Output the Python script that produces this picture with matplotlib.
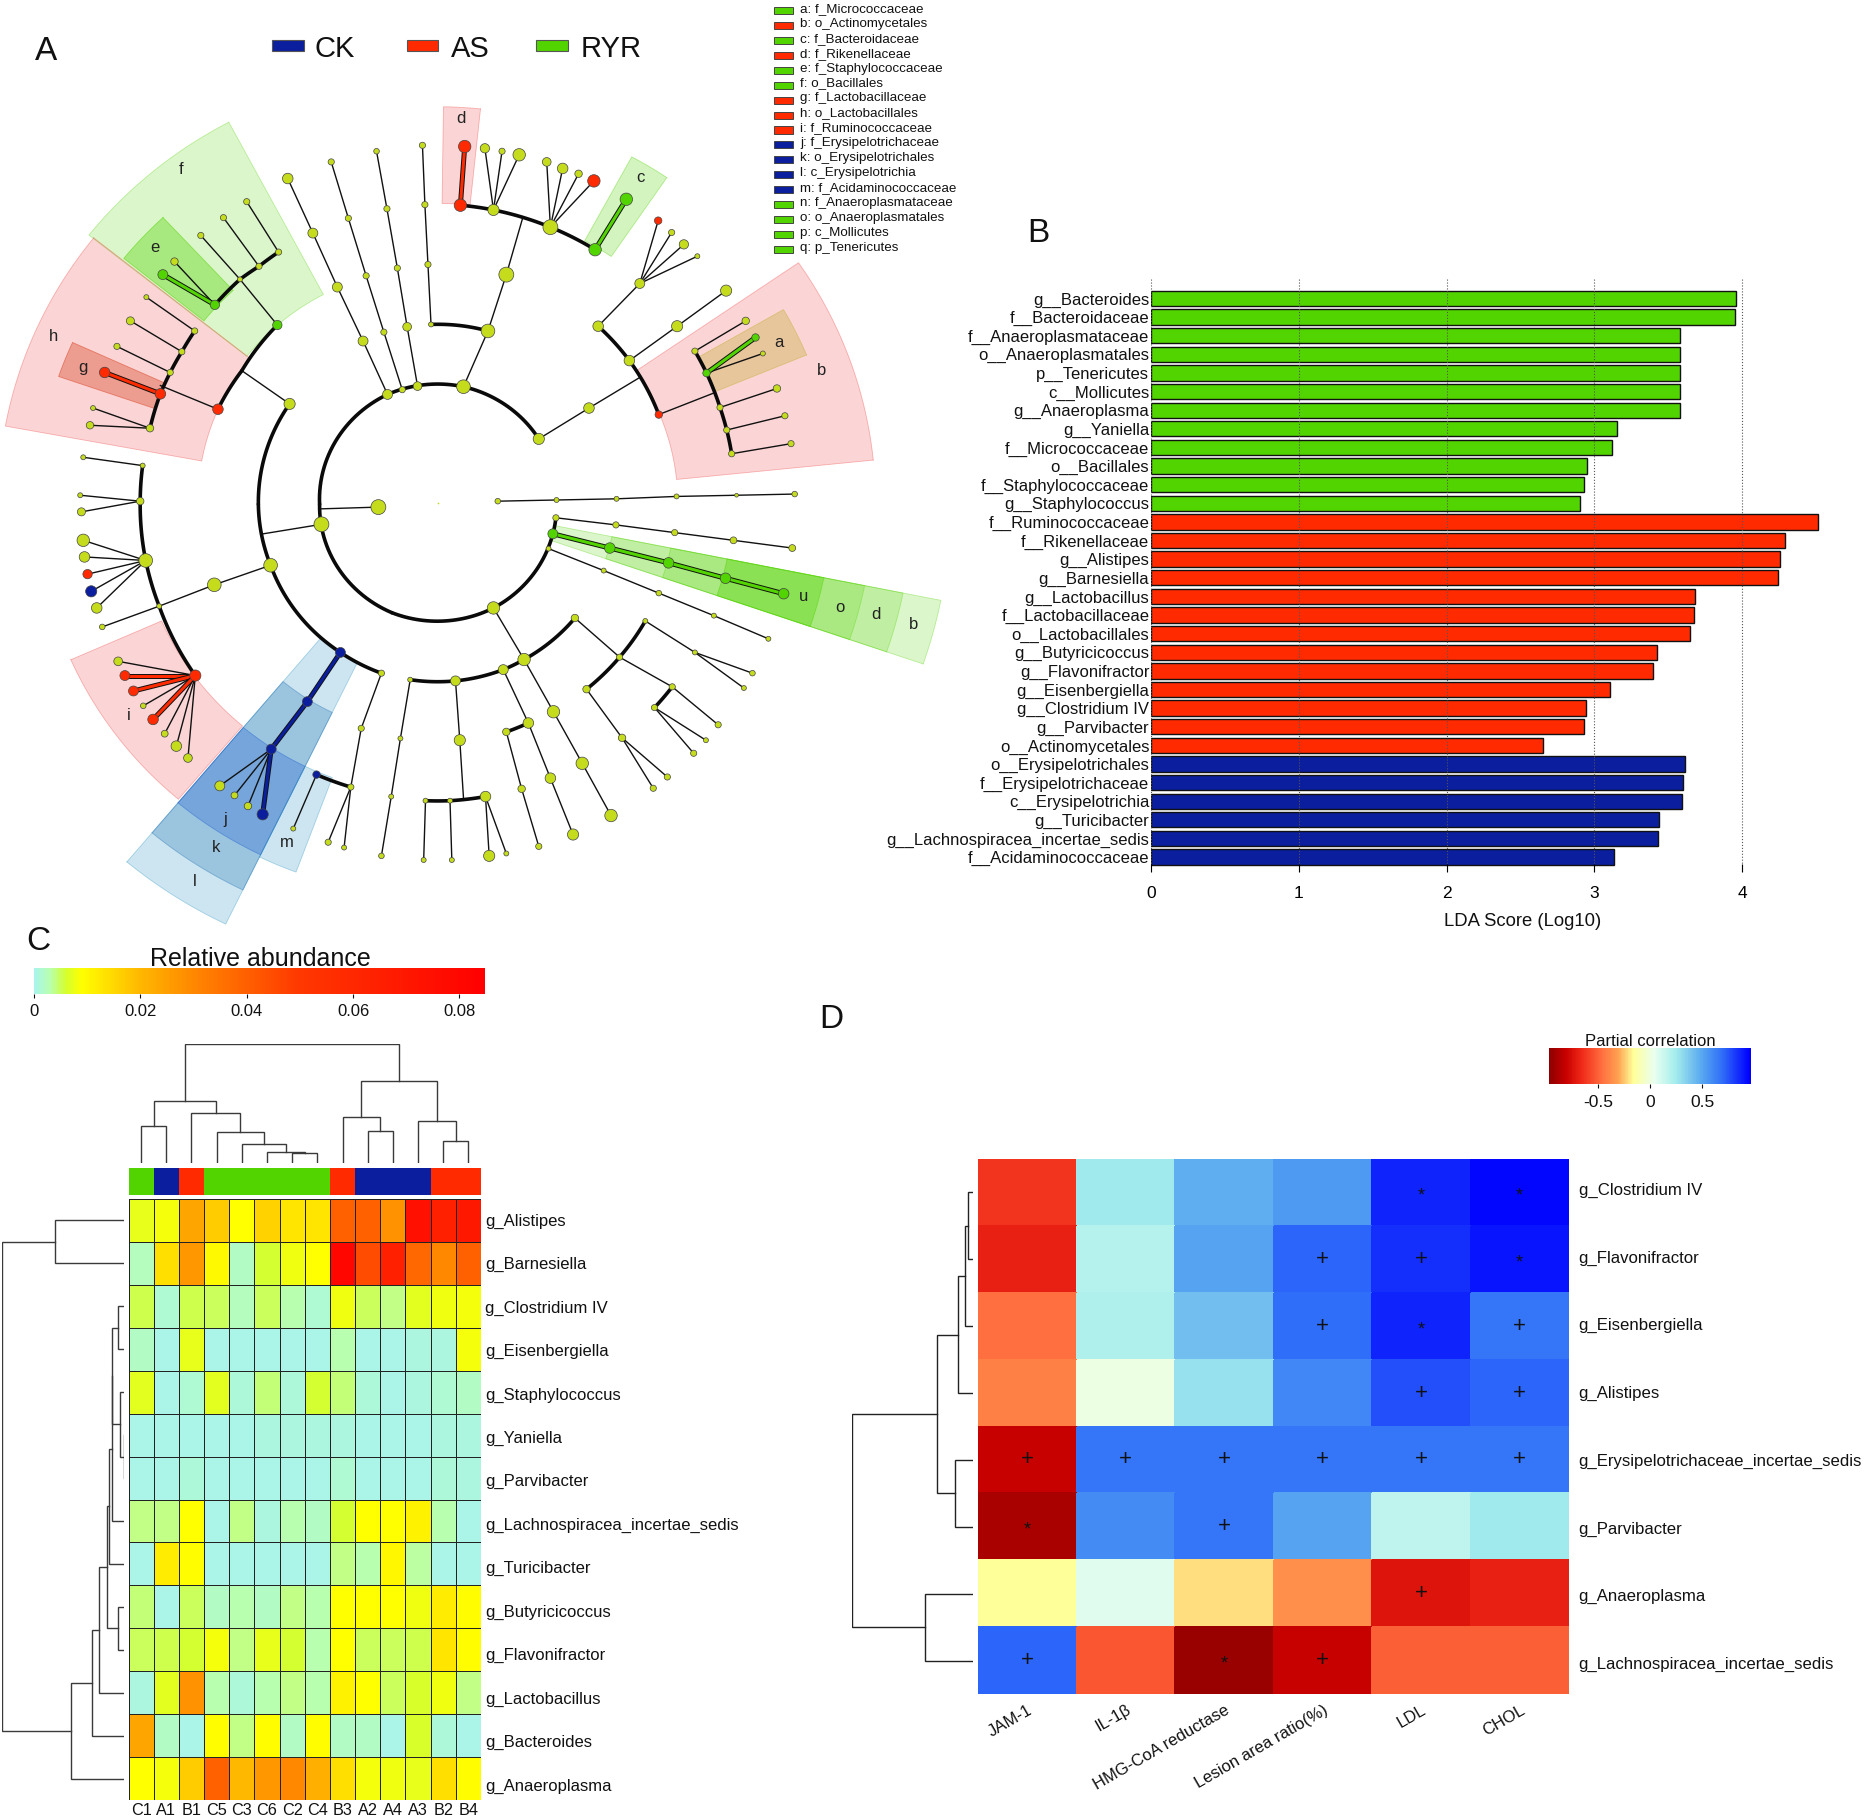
import numpy as np
import matplotlib
matplotlib.use("Agg")
import matplotlib.pyplot as plt
from matplotlib.colors import LinearSegmentedColormap, Normalize
from matplotlib.cm import ScalarMappable
from matplotlib.patches import Polygon, Rectangle

plt.rcParams['font.family'] = ['Liberation Sans', 'DejaVu Sans']
W, H = 1864, 1819
fig = plt.figure(figsize=(W / 100, H / 100), dpi=100, facecolor='white')

GREEN, RED, BLUE = '#52d400', '#ff2a00', '#0a1e9e'
NODE = '#c4dc1c'
COL = {'n': NODE, 'g': GREEN, 'r': RED, 'b': BLUE}


def box(x0, y0, x1, y1, **kw):
    return fig.add_axes([x0 / W, 1 - y1 / H, (x1 - x0) / W, (y1 - y0) / H], **kw)


# ---------------- Panel A data (cladogram, in its own data space) ----------------
CENTER = (715, 848)
# name, r_in, r_out, theta1, theta2, colour, alpha
sectors = [
    ('f', 398, 727, 118, 141.6, GREEN, .20), ('e', 490, 658, 133, 141.2, GREEN, .38),
    ('h', 392, 718, 141.5, 169.6, '#f04040', .22), ('g', 488, 655, 155.6, 161, '#d84020', .38),
    ('d', 505, 668, 84, 89.2, '#f04040', .22), ('c', 503, 664, 55.7, 61.5, GREEN, .25),
    ('b', 392, 715, 5.8, 34.5, '#f04040', .22), ('a', 490, 652, 22.5, 30, '#c8b040', .38),
    ('ub', 195, 838, -18.9, -11.3, GREEN, .20), ('ud', 290, 775, -18.9, -11.3, GREEN, .20),
    ('uo', 388, 711, -18.9, -11.3, GREEN, .20), ('uu', 482, 643, -18.9, -11.3, GREEN, .35),
    ('i', 493, 655, 203.8, 229.7, '#f04040', .22),
    ('l', 298, 790, 230, 244, '#3d9cc8', .26), ('k', 393, 726, 230, 244, '#2c78b8', .30),
    ('j', 494, 660, 230, 244, '#2060d0', .30), ('m', 494, 664, 244, 249.6, '#3d9cc8', .26),
]
sector_labels = [('d', 753, 200), ('c', 1046, 300), ('f', 295, 286), ('e', 253, 417), ('h', 87, 568),
                 ('g', 135, 619), ('b', 1342, 624), ('a', 1272, 578), ('u', 1313, 1006), ('o', 1372, 1024),
                 ('d', 1430, 1036), ('b', 1492, 1053), ('i', 210, 1207), ('j', 368, 1381), ('k', 353, 1429),
                 ('l', 318, 1487), ('m', 469, 1421)]
arcs = [
    [(880, 740), (757, 652), (633, 665), (522, 850), (640, 1033), (806, 1025), (903, 900), (908, 873)],
    [(473, 681), (422, 850), (442, 953), (556, 1100), (623, 1135)],
    [(752, 346), (806, 354), (899, 383), (972, 421)],
    [(704, 547), (797, 558)],
    [(977, 550), (1028, 608), (1076, 699)],
    [(1135, 592), (1154, 629), (1176, 687), (1195, 765)],
    [(670, 1146), (744, 1148), (822, 1129), (856, 1112), (939, 1042)],
    [(958, 1162), (1012, 1108), (1054, 1047)],
    [(1069, 1193), (1098, 1158)],
    [(827, 1234), (863, 1219)],
    [(695, 1350), (735, 1350), (793, 1343)],
    [(517, 1306), (573, 1327)],
    [(233, 785), (229, 845), (238, 945), (260, 1022), (319, 1139)],
    [(356, 690), (395, 625), (453, 548)],
    [(245, 722), (262, 664), (278, 628), (297, 593), (318, 558)],
    [(351, 514), (392, 471), (423, 449), (455, 425)],
]
thin = [
    [(633, 665), (593, 575), (551, 484), (511, 393), (470, 301)],
    [(657, 657), (627, 560), (598, 465), (569, 368), (541, 273)],
    [(682, 651), (665, 551), (649, 452), (632, 352), (615, 255)],
    [(704, 547), (699, 446), (694, 345), (690, 245)],
    [(757, 652), (797, 558), (827, 463), (853, 370)],
    [(806, 354), (792, 250)], [(806, 354), (820, 255)], [(806, 354), (848, 261)],
    [(899, 383), (893, 273)], [(899, 383), (919, 284)], [(899, 383), (945, 293)], [(899, 383), (970, 305)],
    [(880, 740), (962, 688), (1044, 637)],
    [(977, 550), (1045, 478)], [(1045, 478), (1075, 372)], [(1045, 478), (1097, 392)],
    [(1045, 478), (1117, 412)], [(1045, 478), (1139, 432)],
    [(1028, 608), (1106, 550), (1186, 490)],
    [(1076, 699), (1165, 663)],
    [(1135, 592), (1218, 541)], [(1154, 629), (1246, 596)],
    [(1176, 687), (1269, 655)], [(1187, 725), (1282, 701)], [(1195, 765), (1292, 748)],
    [(813, 845), (909, 843), (1007, 841), (1105, 837), (1203, 835), (1298, 833)],
    [(908, 873), (1006, 885), (1102, 898), (1198, 911), (1294, 924)],
    [(896, 925), (986, 962), (1076, 1000), (1166, 1038), (1255, 1077)],
    [(806, 1025), (856, 1112), (904, 1200), (951, 1287), (998, 1375)],
    [(939, 1042), (1012, 1108), (1098, 1158), (1173, 1222)],
    [(1054, 1047), (1135, 1100), (1229, 1135)], [(1135, 1100), (1215, 1160)],
    [(1069, 1193), (1153, 1248)], [(1069, 1193), (1133, 1270)],
    [(958, 1162), (1016, 1244), (1090, 1310)], [(1016, 1244), (1067, 1329)],
    [(822, 1129), (863, 1219), (899, 1312), (936, 1407)],
    [(827, 1234), (852, 1330), (880, 1427)],
    [(744, 1148), (751, 1248), (757, 1345)],
    [(695, 1350), (692, 1450)], [(735, 1350), (738, 1450)], [(793, 1343), (799, 1443)], [(793, 1343), (827, 1439)],
    [(670, 1146), (654, 1245), (639, 1343), (623, 1443)],
    [(623, 1135), (590, 1228), (573, 1327)],
    [(573, 1327), (536, 1420)], [(573, 1327), (562, 1429)], [(517, 1306), (479, 1397)],
    [(443, 1263), (359, 1325)], [(443, 1263), (383, 1341)], [(443, 1263), (405, 1359)],
    [(319, 1139), (193, 1115)], [(319, 1139), (234, 1190)], [(319, 1139), (269, 1237)],
    [(319, 1139), (288, 1258)], [(319, 1139), (307, 1278)],
    [(233, 785), (136, 771)], [(229, 845), (131, 835)], [(229, 845), (133, 863)],
    [(238, 945), (136, 911)], [(238, 945), (138, 939)], [(238, 945), (143, 968)],
    [(238, 945), (149, 997)], [(238, 945), (158, 1025)],
    [(430, 900), (525, 884)], [(522, 858), (618, 855)],
    [(442, 953), (350, 986), (260, 1022), (167, 1057)],
    [(473, 681), (395, 625)], [(356, 690), (262, 650)],
    [(245, 722), (147, 717)], [(245, 722), (152, 688)], [(278, 628), (191, 584)],
    [(297, 593), (213, 541)], [(318, 558), (239, 501)],
    [(453, 548), (392, 471), (328, 397)], [(351, 514), (285, 441)],
    [(423, 449), (365, 367)], [(455, 425), (403, 340)],
]
thick = [
    ('r', [(752, 346), (759, 247)]), ('g', [(972, 421), (1023, 336)]),
    ('g', [(1154, 629), (1234, 569)]),
    ('g', [(903, 900), (996, 924), (1092, 949), (1185, 975), (1280, 1001)]),
    ('b', [(556, 1100), (502, 1183), (443, 1263), (429, 1373)]),
    ('r', [(319, 1139), (204, 1139)]), ('r', [(319, 1139), (218, 1165)]), ('r', [(319, 1139), (250, 1213)]),
    ('r', [(262, 664), (171, 628)]), ('g', [(351, 514), (266, 463)]),
]
nodes = [
    (593, 575, 16, 'n'), (551, 484, 16, 'n'), (511, 393, 16, 'n'), (470, 301, 17, 'n'),
    (627, 560, 10, 'n'), (598, 465, 10, 'n'), (569, 368, 10, 'n'), (541, 273, 10, 'n'),
    (665, 551, 14, 'n'), (649, 452, 10, 'n'), (632, 352, 10, 'n'), (615, 255, 9, 'n'),
    (704, 547, 8, 'n'), (699, 446, 10, 'n'), (694, 345, 10, 'n'), (690, 245, 10, 'n'),
    (633, 665, 16, 'n'), (657, 657, 10, 'n'), (682, 651, 14, 'n'), (757, 652, 22, 'n'), (880, 740, 18, 'n'),
    (797, 558, 22, 'n'), (827, 463, 24, 'n'),
    (752, 346, 20, 'r'), (806, 354, 18, 'n'), (899, 383, 24, 'n'), (972, 421, 20, 'g'),
    (759, 247, 20, 'r'), (1023, 336, 20, 'g'),
    (792, 250, 15, 'n'), (820, 255, 10, 'n'), (848, 261, 20, 'n'),
    (893, 273, 14, 'n'), (919, 284, 17, 'n'), (945, 293, 12, 'n'), (970, 305, 20, 'r'),
    (962, 688, 17, 'n'), (977, 550, 17, 'n'), (1028, 608, 17, 'n'), (1076, 699, 12, 'r'),
    (1045, 478, 16, 'n'), (1075, 372, 12, 'r'), (1097, 392, 10, 'n'), (1117, 412, 15, 'n'), (1139, 432, 8, 'n'),
    (1106, 550, 18, 'n'), (1186, 490, 18, 'n'),
    (1135, 592, 10, 'n'), (1154, 629, 12, 'g'), (1176, 687, 10, 'n'), (1187, 725, 10, 'n'), (1195, 765, 10, 'n'),
    (1218, 541, 12, 'n'), (1234, 569, 12, 'g'), (1246, 596, 8, 'n'),
    (1269, 655, 12, 'n'), (1282, 701, 10, 'n'), (1292, 748, 10, 'n'),
    (813, 845, 9, 'n'), (909, 843, 8, 'n'), (1007, 841, 8, 'n'), (1105, 837, 8, 'n'), (1203, 835, 6, 'n'), (1298, 833, 9, 'n'),
    (908, 873, 10, 'n'), (1006, 885, 10, 'n'), (1102, 898, 10, 'n'), (1198, 911, 11, 'n'), (1294, 924, 11, 'n'),
    (903, 900, 16, 'g'), (996, 924, 17, 'g'), (1092, 949, 17, 'g'), (1185, 975, 17, 'g'), (1280, 1001, 17, 'g'),
    (896, 925, 8, 'n'), (986, 962, 8, 'n'), (1076, 1000, 9, 'n'), (1166, 1038, 8, 'n'), (1255, 1077, 8, 'n'),
    (806, 1025, 20, 'n'), (670, 1146, 8, 'n'), (744, 1148, 16, 'n'), (822, 1129, 16, 'n'), (856, 1112, 20, 'n'), (939, 1042, 12, 'n'),
    (958, 1162, 12, 'n'), (1012, 1108, 10, 'n'), (1054, 1047, 8, 'n'),
    (1135, 1100, 8, 'n'), (1229, 1135, 9, 'n'), (1215, 1160, 8, 'n'),
    (1098, 1158, 10, 'n'), (1069, 1193, 10, 'n'), (1173, 1222, 10, 'n'), (1153, 1248, 8, 'n'), (1133, 1270, 10, 'n'),
    (1016, 1244, 12, 'n'), (1090, 1310, 10, 'n'), (1067, 1329, 10, 'n'),
    (904, 1200, 20, 'n'), (951, 1287, 20, 'n'), (998, 1375, 20, 'n'),
    (863, 1219, 17, 'n'), (827, 1234, 12, 'n'), (852, 1330, 12, 'n'), (880, 1427, 10, 'n'),
    (899, 1312, 17, 'n'), (936, 1407, 18, 'n'),
    (751, 1248, 18, 'n'), (695, 1350, 8, 'n'), (735, 1350, 8, 'n'), (793, 1343, 17, 'n'),
    (692, 1450, 8, 'n'), (738, 1450, 8, 'n'), (799, 1443, 18, 'n'), (827, 1439, 8, 'n'),
    (654, 1245, 8, 'n'), (639, 1343, 8, 'n'), (623, 1443, 9, 'n'),
    (623, 1135, 10, 'n'), (590, 1228, 10, 'n'), (573, 1327, 10, 'n'), (517, 1306, 12, 'b'),
    (536, 1420, 10, 'n'), (562, 1429, 8, 'n'), (479, 1397, 8, 'n'),
    (556, 1100, 16, 'b'), (502, 1183, 16, 'b'), (443, 1263, 16, 'b'), (429, 1373, 18, 'b'),
    (359, 1325, 16, 'n'), (383, 1341, 11, 'n'), (405, 1359, 12, 'n'),
    (319, 1139, 18, 'r'), (193, 1115, 14, 'n'), (204, 1139, 16, 'r'), (218, 1165, 16, 'r'), (234, 1190, 9, 'n'),
    (250, 1213, 17, 'r'), (269, 1237, 11, 'n'), (288, 1258, 17, 'n'), (307, 1278, 14, 'n'),
    (229, 845, 12, 'n'), (233, 785, 8, 'n'), (238, 945, 22, 'n'), (260, 1022, 8, 'n'),
    (136, 771, 8, 'n'), (131, 835, 8, 'n'), (133, 863, 13, 'n'),
    (136, 911, 20, 'n'), (138, 939, 17, 'n'), (143, 968, 15, 'r'), (149, 997, 18, 'b'), (158, 1025, 17, 'n'), (167, 1057, 9, 'n'),
    (525, 884, 24, 'n'), (618, 855, 24, 'n'), (442, 953, 22, 'n'), (350, 986, 22, 'n'), (473, 681, 18, 'n'),
    (356, 690, 17, 'r'), (453, 548, 15, 'g'), (245, 722, 12, 'n'), (262, 664, 17, 'r'), (278, 628, 10, 'n'),
    (297, 593, 10, 'n'), (318, 558, 10, 'n'), (147, 717, 12, 'n'), (152, 688, 8, 'n'), (171, 628, 17, 'r'),
    (191, 584, 10, 'n'), (213, 541, 13, 'n'), (239, 501, 8, 'n'),
    (351, 514, 15, 'g'), (392, 471, 8, 'n'), (423, 449, 10, 'n'), (455, 425, 10, 'n'), (328, 397, 10, 'n'),
    (266, 463, 16, 'g'), (285, 441, 12, 'n'), (365, 367, 10, 'n'), (403, 340, 10, 'n'),
]
legend_names = ['a: f_Micrococcaceae', 'b: o_Actinomycetales', 'c: f_Bacteroidaceae', 'd: f_Rikenellaceae',
                'e: f_Staphylococcaceae', 'f: o_Bacillales', 'g: f_Lactobacillaceae', 'h: o_Lactobacillales',
                'i: f_Ruminococcaceae', 'j: f_Erysipelotrichaceae', 'k: o_Erysipelotrichales', 'l: c_Erysipelotrichia',
                'm: f_Acidaminococcaceae', 'n: f_Anaeroplasmataceae', 'o: o_Anaeroplasmatales', 'p: c_Mollicutes',
                'q: p_Tenericutes']
legend_groups = list('grgrggrrrbbbbgggg')
group_names = ['CK', 'AS', 'RYR']
group_keys = ['b', 'r', 'g']

# ---------------- Panel B data ----------------
lda_names = ['g__Bacteroides', 'f__Bacteroidaceae', 'f__Anaeroplasmataceae', 'o__Anaeroplasmatales', 'p__Tenericutes',
             'c__Mollicutes', 'g__Anaeroplasma', 'g__Yaniella', 'f__Micrococcaceae', 'o__Bacillales',
             'f__Staphylococcaceae', 'g__Staphylococcus', 'f__Ruminococcaceae', 'f__Rikenellaceae', 'g__Alistipes',
             'g__Barnesiella', 'g__Lactobacillus', 'f__Lactobacillaceae', 'o__Lactobacillales', 'g__Butyricicoccus',
             'g__Flavonifractor', 'g__Eisenbergiella', 'g__Clostridium IV', 'g__Parvibacter', 'o__Actinomycetales',
             'o__Erysipelotrichales', 'f__Erysipelotrichaceae', 'c__Erysipelotrichia', 'g__Turicibacter',
             'g__Lachnospiracea_incertae_sedis', 'f__Acidaminococcaceae']
lda_values = [3.957, 3.952, 3.58, 3.58, 3.58, 3.58, 3.576, 3.156, 3.117, 2.948, 2.93, 2.90,
              4.51, 4.286, 4.255, 4.242, 3.68, 3.675, 3.645, 3.42, 3.398, 3.104, 2.944, 2.93, 2.65,
              3.615, 3.597, 3.593, 3.437, 3.433, 3.13]
lda_groups = ['g'] * 12 + ['r'] * 13 + ['b'] * 6

# ---------------- Panel C data ----------------
c_cols = ['C1', 'A1', 'B1', 'C5', 'C3', 'C6', 'C2', 'C4', 'B3', 'A2', 'A4', 'A3', 'B2', 'B4']
c_groups = list('gbrgggggrbbbrr')
c_rows = ['g_Alistipes', 'g_Barnesiella', 'g_Clostridium IV', 'g_Eisenbergiella', 'g_Staphylococcus', 'g_Yaniella',
          'g_Parvibacter', 'g_Lachnospiracea_incertae_sedis', 'g_Turicibacter', 'g_Butyricicoccus', 'g_Flavonifractor',
          'g_Lactobacillus', 'g_Bacteroides', 'g_Anaeroplasma']
c_matrix = [
    [.0075, .0085, .024, .017, .009, .016, .013, .013, .04, .04, .028, .075, .065, .07],
    [.0025, .014, .027, .010, .002, .006, .008, .009, .08, .045, .065, .038, .03, .04],
    [.0055, .0015, .0055, .005, .0025, .005, .003, .0015, .008, .005, .004, .007, .008, .0085],
    [.002, .0005, .0075, .0005, .0005, .0005, .0005, .0005, .003, .0005, .0005, .0008, .0008, .0085],
    [.007, .0005, .0015, .007, .001, .0045, .001, .006, .0045, .001, .0005, .0008, .0015, .002],
    [.0006, .0005, .0006, .0006, .0005, .0009, .0007, .0008, .0007, .0005, .0005, .0006, .0008, .0007],
    [.0005, .0005, .0012, .0005, .0005, .0006, .0005, .0006, .0015, .0005, .0005, .0005, .0012, .0007],
    [.004, .004, .009, .0005, .004, .0008, .003, .002, .006, .009, .009, .011, .003, .0006],
    [.0004, .012, .0095, .0004, .0004, .0004, .0004, .0004, .004, .003, .0105, .0035, .0005, .0005],
    [.0045, .0006, .005, .002, .003, .002, .004, .003, .009, .009, .009, .008, .012, .0095],
    [.005, .0055, .006, .0085, .004, .0075, .006, .003, .009, .005, .005, .0055, .013, .0095],
    [.0008, .007, .028, .003, .001, .003, .004, .003, .011, .009, .005, .0065, .008, .004],
    [.024, .0022, .0004, .0095, .004, .0095, .002, .0095, .002, .002, .0006, .0065, .0012, .0006],
    [.009, .0085, .017, .04, .02, .027, .03, .022, .014, .0085, .008, .0075, .014, .0095],
]
c_col_merges = [(0, 1, .31), (6, 7, .082), (5, 15, .096), (4, 16, .163), (3, 17, .264), (2, 18, .423), (14, 19, .52),
                (9, 10, .27), (8, 21, .385), (12, 13, .183), (11, 23, .35), (22, 24, .69), (20, 25, 1.0)]
c_row_merges = [(0, 1, .57), (2, 3, .052), (5, 6, .004), (4, 16, .032), (15, 17, .096), (7, 18, .10), (8, 19, .12),
                (9, 10, .052), (20, 21, .143), (11, 22, .203), (12, 23, .263), (13, 24, .434), (14, 25, 1.0)]

# ---------------- Panel D data ----------------
d_rows = ['g_Clostridium IV', 'g_Flavonifractor', 'g_Eisenbergiella', 'g_Alistipes', 'g_Erysipelotrichaceae_incertae_sedis',
          'g_Parvibacter', 'g_Anaeroplasma', 'g_Lachnospiracea_incertae_sedis']
d_cols = ['JAM-1', 'IL-1β', 'HMG-CoA reductase', 'Lesion area ratio(%)', 'LDL', 'CHOL']
d_matrix = [
    [-.62, .27, .48, .56, .88, .95],
    [-.68, .2, .52, .72, .85, .92],
    [-.45, .22, .42, .70, .88, .68],
    [-.4, .02, .3, .62, .78, .72],
    [-.8, .68, .68, .68, .68, .68],
    [-.88, .6, .68, .52, .18, .27],
    [-.15, .08, -.2, -.35, -.72, -.68],
    [.72, -.52, -.93, -.8, -.5, -.5],
]
d_marks = [['', '', '', '', '*', '*'], ['', '', '', '+', '+', '*'], ['', '', '', '+', '*', '+'], ['', '', '', '', '+', '+'],
           ['+', '+', '+', '+', '+', '+'], ['*', '', '+', '', '', ''], ['', '', '', '', '+', ''], ['+', '', '*', '+', '', '']]
d_merges = [(0, 1, .045), (8, 2, .07), (9, 3, .12), (4, 5, .15), (10, 11, .30), (6, 7, .40), (12, 13, 1.0)]


# ---------------- helpers ----------------
def arc_points(p, q, n=30):
    a0 = np.arctan2(p[1] - CENTER[1], p[0] - CENTER[0])
    a1 = np.arctan2(q[1] - CENTER[1], q[0] - CENTER[0])
    da = (a1 - a0 + np.pi) % (2 * np.pi) - np.pi
    r0, r1 = np.hypot(p[0] - CENTER[0], p[1] - CENTER[1]), np.hypot(q[0] - CENTER[0], q[1] - CENTER[1])
    t = np.linspace(0, 1, n)
    return CENTER[0] + (r0 + (r1 - r0) * t) * np.cos(a0 + da * t), CENTER[1] + (r0 + (r1 - r0) * t) * np.sin(a0 + da * t)


def dendrogram(ax, merges, nleaf, horizontal, color='#3a3a3a', lw=1.0):
    pos = {i: i + .5 for i in range(nleaf)}
    hgt = {i: 0 for i in range(nleaf)}
    for k, (a, b, h) in enumerate(merges):
        xs = [pos[a], pos[a], pos[b], pos[b]]
        ys = [hgt[a], h, h, hgt[b]]
        if horizontal:
            ax.plot(ys, xs, color=color, lw=lw, solid_joinstyle='miter')
        else:
            ax.plot(xs, ys, color=color, lw=lw, solid_joinstyle='miter')
        pos[nleaf + k] = (pos[a] + pos[b]) / 2
        hgt[nleaf + k] = h
    ax.axis('off')


# ---------------- Panel A ----------------
ax = box(0, 0, 960, 930)
ax.set_xlim(0, 1568)
ax.set_ylim(1568, 0)
ax.axis('off')
for name, r0, r1, t0, t1, c, al in sectors:
    th = np.radians(np.linspace(t0, t1, 50))
    xs = np.r_[CENTER[0] + r1 * np.cos(th), CENTER[0] + r0 * np.cos(th[::-1])]
    ys = np.r_[CENTER[1] - r1 * np.sin(th), CENTER[1] - r0 * np.sin(th[::-1])]
    ax.add_patch(Polygon(np.c_[xs, ys], closed=True, facecolor=c, edgecolor='none', alpha=al, zorder=1))
    ax.plot(np.r_[xs, xs[0]], np.r_[ys, ys[0]], color=c, lw=.6, alpha=min(al + .15, .6), zorder=1)
for line in thin:
    ax.plot(*zip(*line), color='#111111', lw=1.0, zorder=3)
for way in arcs:
    for p, q in zip(way[:-1], way[1:]):
        ax.plot(*arc_points(p, q), color='#0a0a0a', lw=2.6, zorder=3, solid_capstyle='round')
for key, line in thick:
    ax.plot(*zip(*line), color='#111111', lw=3.6, zorder=4, solid_capstyle='round')
    ax.plot(*zip(*line), color=COL[key], lw=2.2, zorder=4, solid_capstyle='round')
xn, yn, dn, kn = zip(*nodes)
ax.scatter(xn, yn, s=(np.array(dn) / 1.65 * .72) ** 2 * 1.05, c=[COL[k] for k in kn], edgecolors='#444444',
           linewidths=.5, zorder=5)
ax.scatter([CENTER[0]], [CENTER[1]], s=1.5, c=NODE, linewidths=0, zorder=5)
for t, x, y in sector_labels:
    ax.text(x, y, t, fontsize=12, ha='center', va='center', color='#222222', zorder=6)
for i, (nm, k) in enumerate(zip(group_names, group_keys)):
    x0 = [445, 664, 876][i]
    ax.add_patch(Rectangle((x0, 67), 52, 19, facecolor=COL[k], edgecolor='#555555', lw=.8, zorder=6))
    ax.text(x0 + [68, 72, 72][i], 83, nm, fontsize=21, va='center', color='#111111')
for i, (nm, k) in enumerate(zip(legend_names, legend_groups)):
    y = 18 + 25.15 * i
    ax.add_patch(Rectangle((1264, y - 6), 32, 12, facecolor=COL[k], edgecolor='#444444', lw=.7, zorder=6, clip_on=False))
    ax.text(1307, y - 3, nm, fontsize=9.65, va='center', color='#111111', clip_on=False)

for t, x, y in [('A', 46, 51), ('B', 1038, 233), ('C', 38, 941), ('D', 831, 1019)]:
    fig.text(x / W, 1 - y / H, t, fontsize=24, ha='center', va='center', color='#111111')

# ---------------- Panel B ----------------
ax = box(1150.7, 279.5, 1831, 872)
ax.set_xlim(0, (1831 - 1150.7) / 147.9)
ax.set_ylim(30.8, -1.015)
ax.barh(np.arange(len(lda_values)), lda_values, height=.82, color=[COL[k] for k in lda_groups],
        edgecolor='#111111', linewidth=1.0, zorder=2)
ax.set_yticks(np.arange(len(lda_names)))
ax.set_yticklabels(lda_names, fontsize=12, color='#111111')
ax.set_xticks(range(5))
ax.tick_params(axis='y', length=0, pad=1)
ax.tick_params(axis='x', direction='in', length=6, width=.8, pad=10, labelsize=12.5)
ax.xaxis.grid(True, ls=':', color='#555555', lw=.8)
ax.set_axisbelow(False)
for s in ax.spines.values():
    s.set_visible(False)
fig.text(1522.7 / W, 1 - 921.5 / H, 'LDA Score (Log10)', fontsize=13.3, ha='center', va='center', color='#111111')

# ---------------- Panel C ----------------
c_vmax = .0848
c_stops = [(0, '#a8f4ee'), (.003, '#b8ffb0'), (.006, '#d4ff30'), (.009, '#ffff00'), (.02, '#ffb800'), (.03, '#ff8800'),
           (.05, '#ff3800'), (.085, '#ff0000')]
c_cmap = LinearSegmentedColormap.from_list('c', [(min(v / c_vmax, 1), col) for v, col in c_stops][:-1] + [(1, '#ff0000')])
c_norm = Normalize(0, c_vmax)
ax = box(128.5, 1199, 481, 1800)
ax.pcolormesh(np.array(c_matrix), cmap=c_cmap, norm=c_norm, edgecolors='#222222', linewidth=.7)
ax.set_ylim(len(c_rows), 0)
ax.set_xticks(np.arange(len(c_cols)) + .5)
ax.set_xticklabels(c_cols, fontsize=11.7, color='#111111')
ax.yaxis.tick_right()
# the row labels of the reference drift slightly against the cells
ax.set_yticks(.48 + np.arange(len(c_rows)) * 1.012)
ax.set_yticklabels(c_rows, fontsize=12, color='#111111')
ax.tick_params(axis='y', length=0, pad=3)
ax.tick_params(axis='x', length=0, pad=2)
for s in ax.spines.values():
    s.set_visible(False)

ax = box(128.5, 1167.7, 481, 1195.2)
ax.bar(np.arange(14) + .5, np.ones(14), width=1.0, color=[COL[k] for k in c_groups])
ax.set_xlim(0, 14)
ax.set_ylim(0, 1)
ax.axis('off')

ax = box(128.5, 1043.9, 481, 1163)
dendrogram(ax, c_col_merges, 14, False)
ax.set_xlim(0, 14)
ax.set_ylim(0, 1)

ax = box(2.4, 1199, 124, 1800)
dendrogram(ax, c_row_merges, 14, True)
ax.set_xlim(1, 0)
ax.set_ylim(14, 0)

cax = box(34, 968.2, 485, 994.5)
cb = fig.colorbar(ScalarMappable(norm=c_norm, cmap=c_cmap), cax=cax, orientation='horizontal')
cb.set_ticks([0, .02, .04, .06, .08])
cb.set_ticklabels(['0', '0.02', '0.04', '0.06', '0.08'])
cb.ax.tick_params(labelsize=12, length=3, width=.8, pad=4, colors='#111111')
cb.outline.set_visible(False)
cb.solids.set_edgecolor('face')
fig.text(260 / W, 1 - 959 / H, 'Relative abundance', fontsize=18, ha='center', va='center', color='#111111')

# ---------------- Panel D ----------------
d_stops = [(-.97, '#8b0000'), (-.8, '#c80000'), (-.65, '#f02818'), (-.45, '#ff7040'), (-.3, '#ffa050'), (-.15, '#ffff99'),
           (.05, '#eafff0'), (.25, '#a6eeec'), (.5, '#5aaaf0'), (.7, '#3070f8'), (.97, '#0000ff')]
d_cmap = LinearSegmentedColormap.from_list('d', [((v + .97) / 1.94, col) for v, col in d_stops])
d_norm = Normalize(-.97, .97)
ax = box(978, 1159, 1569, 1694)
ax.pcolormesh(np.array(d_matrix), cmap=d_cmap, norm=d_norm, edgecolors='face', linewidth=.3)
ax.set_ylim(len(d_rows), 0)
for r, row in enumerate(d_marks):
    for c, m in enumerate(row):
        if m == '+':
            ax.text(c + .5, r + .5, '+', fontsize=16, ha='center', va='center', color='#111111')
        elif m == '*':
            ax.text(c + .5, r + .55, '*', fontsize=13, ha='center', va='center', color='#111111')
ax.set_xticks(np.arange(len(d_cols)) + .5)
ax.set_xticklabels(d_cols, fontsize=12, rotation=30, ha='right', rotation_mode='anchor', color='#111111')
ax.yaxis.tick_right()
# the row labels of the reference drift slightly against the cells
ax.set_yticks(.445 + np.arange(len(d_rows)) * 1.013)
ax.set_yticklabels(d_rows, fontsize=12.1, color='#111111')
ax.tick_params(axis='y', length=0, pad=7)
ax.tick_params(axis='x', length=0, pad=6)
for s in ax.spines.values():
    s.set_visible(False)

ax = box(852, 1159, 973, 1694)
dendrogram(ax, d_merges, 8, True, color='#222222')
ax.set_xlim(1, 0)
ax.set_ylim(8, 0)

cax = box(1549, 1048, 1751, 1084)
cb = fig.colorbar(ScalarMappable(norm=d_norm, cmap=d_cmap), cax=cax, orientation='horizontal')
cb.set_ticks([-.5, 0, .5])
cb.set_ticklabels(['-0.5', '0', '0.5'])
cb.ax.tick_params(labelsize=12.5, length=3, width=.8, pad=5, colors='#111111')
cb.outline.set_visible(False)
cb.solids.set_edgecolor('face')
fig.text(1650 / W, 1 - 1041 / H, 'Partial correlation', fontsize=12, ha='center', va='center', color='#111111')

fig.savefig('out.png', dpi=100, facecolor='white')
